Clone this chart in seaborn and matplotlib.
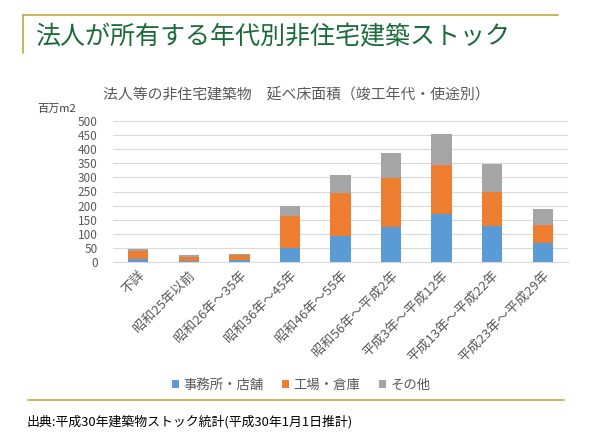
import matplotlib
matplotlib.use("Agg")
import matplotlib.pyplot as plt
import seaborn as sns
import numpy as np
import pandas as pd
from matplotlib.patches import Patch
from matplotlib.lines import Line2D

categories = ["不詳", "昭和25年以前", "昭和26年～35年", "昭和36年～45年", "昭和46年～55年",
              "昭和56年～平成2年", "平成3年～平成12年", "平成13年～平成22年", "平成23年～平成29年"]
office = [12, 3, 6, 48, 93, 125, 171, 127, 68]
factory = [26, 13, 18, 116, 153, 173, 172, 123, 63]
other = [8, 10, 3, 36, 61, 87, 111, 99, 57]
series_names = ["事務所・店舗", "工場・倉庫", "その他"]
colors = ["#5B9BD5", "#ED7D31", "#A5A5A5"]
yticks = list(range(0, 501, 50))

sns.set_theme(style="white")
plt.rcParams['font.family'] = ['Noto Sans CJK JP', 'DejaVu Sans']

W, H = 590, 444
fig = plt.figure(figsize=(W / 100, H / 100), dpi=100)

def fx(px):
    return px / W

def fy(py):
    return 1 - py / H

ax = fig.add_axes([fx(113), fy(262), fx(568) - fx(113), (262 - 121) / H])

df = pd.DataFrame({"cat": categories,
                   "office": office,
                   "factory": factory,
                   "other": other})
df["c2"] = df["office"] + df["factory"]
df["c3"] = df["c2"] + df["other"]

for col, colr in zip(["c3", "c2", "office"], [colors[2], colors[1], colors[0]]):
    sns.barplot(data=df, x="cat", y=col, color=colr, width=0.4, ax=ax,
                saturation=1, zorder=3, edgecolor="none", linewidth=0)

ax.set_ylim(0, 500)
ax.set_xlim(-0.5, len(categories) - 0.5)
ax.set_yticks(yticks)
ax.set_yticklabels([str(t) for t in yticks], fontsize=8.5, color="#595959")
ax.set_xlabel("")
ax.set_ylabel("")
ax.yaxis.grid(True, color="#D9D9D9", linewidth=0.8, zorder=0)
ax.set_axisbelow(True)
for s in ["top", "right", "left"]:
    ax.spines[s].set_visible(False)
ax.spines["bottom"].set_color("#D9D9D9")
ax.spines["bottom"].set_linewidth(0.8)
ax.tick_params(axis="y", length=0, pad=11)
ax.tick_params(axis="x", length=0, pad=5)
ax.set_xticks(range(len(categories)))
ax.set_xticklabels(categories, rotation=45, ha="right", rotation_mode="anchor",
                   fontsize=9.5, color="#595959")

# slide title and decorations
gold = "#C8AE4E"
fig.add_artist(Line2D([fx(23), fx(558)], [fy(15), fy(15)], color=gold, lw=1.3))
fig.add_artist(Line2D([fx(23), fx(23)], [fy(15), fy(53)], color=gold, lw=1.3))
fig.add_artist(Line2D([fx(28), fx(564)], [fy(400), fy(400)], color=gold, lw=1.3))
fig.text(fx(35), fy(37), "法人が所有する年代別非住宅建築ストック", fontsize=18,
         color="#1B6B3A", fontweight="normal", va="center", ha="left")

fig.text(fx(296), fy(95), "法人等の非住宅建築物　延べ床面積（竣工年代・使途別）",
         fontsize=10.7, color="#595959", ha="center", va="center")
fig.text(fx(37), fy(109), "百万m2", fontsize=8, color="#404040", ha="left", va="center")

handles = [Patch(facecolor=c, edgecolor="none") for c in colors]
fig.legend(handles, series_names, loc="center", bbox_to_anchor=(fx(301), fy(385)),
           ncol=3, frameon=False, fontsize=9.6, handlelength=0.55, handleheight=0.55,
           handletextpad=0.3, columnspacing=1.4, labelcolor="#595959")

fig.text(fx(27), fy(422), "出典:平成30年建築物ストック統計(平成30年1月1日推計)",
         fontsize=9.3, color="#000000", ha="left", va="center")

fig.savefig("out.png", dpi=100)
